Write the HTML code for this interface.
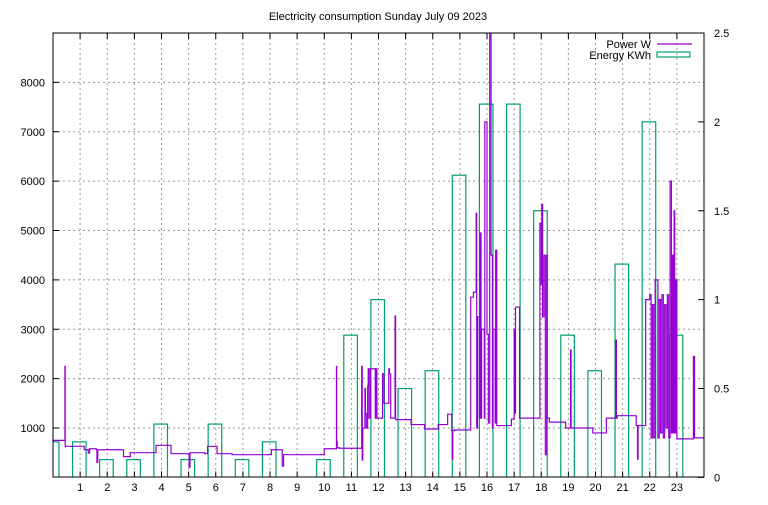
<!DOCTYPE html>
<html><head><meta charset="utf-8"><style>
body{margin:0;background:#fff;}
svg text{font-family:"Liberation Sans",sans-serif;font-size:11px;fill:#000;}
</style></head><body>
<svg id="chart" width="768" height="500" xmlns="http://www.w3.org/2000/svg">
<text x="378" y="20" text-anchor="middle">Electricity consumption Sunday July 09 2023</text>
<g id="grid"></g>
<defs><clipPath id="clip"><rect x="53" y="33" width="651" height="444"/></clipPath></defs>
<g id="energy" clip-path="url(#clip)"></g>
<path id="power" clip-path="url(#clip)" fill="none" stroke="#9400d3" stroke-width="1.2"/>
<rect x="53" y="33" width="651" height="444" fill="none" stroke="#000"/>
<g id="axes"></g>
<g>
<text x="651" y="48" text-anchor="end">Power W</text>
<line x1="657" y1="44" x2="692" y2="44" stroke="#9400d3" stroke-width="1.2"/>
<text x="651" y="59" text-anchor="end">Energy KWh</text>
<rect x="657" y="52" width="33" height="5" fill="none" stroke="#009e73" stroke-width="1.2"/>
</g>
</svg>
<script>
const hours=[0,1,2,3,4,5,6,7,8,9,10,11,12,13,14,15,16,17,18,19,20,21,22,23];
const energyKWh=[0.2,0.2,0.1,0.1,0.3,0.1,0.3,0.1,0.2,0,0.1,0.8,1.0,0.5,0.6,1.7,2.1,2.1,1.5,0.8,0.6,1.2,2.0,0.8];
const powerTimes=[0,0.44,0.45,0.46,1.15,1.3,1.35,1.6,1.62,1.65,2.55,2.6,2.85,3.75,3.8,4.3,4.35,5.0,5.02,5.05,5.6,5.7,5.95,6.05,6.6,8.0,8.05,8.4,8.45,8.5,10.0,10.45,10.46,10.48,10.55,11.38,11.4,11.42,11.5,11.52,11.55,11.6,11.62,11.65,11.7,11.88,11.92,11.94,12.15,12.2,12.38,12.4,12.45,12.6,12.61,12.63,13.2,13.7,14.2,14.55,14.7,14.72,14.74,14.8,15.4,15.5,15.6,15.62,15.65,15.72,15.74,15.78,15.8,15.9,15.92,16.0,16.05,16.1,16.15,16.2,16.22,16.3,16.32,16.36,16.4,16.5,16.9,17.0,17.02,17.05,17.2,17.9,17.95,18.0,18.02,18.05,18.1,18.15,18.2,18.22,18.3,18.9,19.08,19.1,19.12,19.9,20.4,20.75,20.77,20.8,21.5,21.55,21.57,21.85,22.0,22.05,22.1,22.15,22.2,22.3,22.35,22.4,22.45,22.5,22.55,22.6,22.65,22.7,22.75,22.8,22.82,22.86,22.9,22.92,22.96,23.0,23.6,23.61,23.65,24];
const powerWatts=[750,2250,620,630,560,490,580,560,300,560,560,420,500,500,650,650,480,470,200,500,480,630,630,480,460,460,560,560,230,460,580,2250,720,600,590,2250,350,1000,1800,1300,1000,1850,2200,1200,2200,1200,2200,1200,2100,1500,2200,2100,1200,1200,3270,1170,1070,980,1070,1280,950,370,950,960,3650,3750,5350,1000,3250,1200,4950,1200,3000,1200,7200,2900,1100,9000,4500,1000,3000,1100,4600,1050,1050,1050,1180,3000,1300,3450,1200,1200,5150,3900,5530,3250,4500,460,4500,1200,1120,1000,2580,1000,1000,900,1200,2780,1200,1250,1050,370,1050,3600,3700,800,3500,800,4000,800,3600,900,3700,800,3500,1000,3700,800,6000,900,4500,900,5400,900,4000,780,780,2450,800,760,760];
const X0=53,X1=704,Y0=477.4,Y1=33,YMAX=9000,Y2MAX=2.5;
const xs=h=>X0+(X1-X0)*h/24;
const yl=w=>Y0-(Y0-Y1)*w/YMAX;
const yr=e=>Y0-(Y0-Y1)*e/Y2MAX;
const NS="http://www.w3.org/2000/svg";
function mk(tag,attrs,parent){const e=document.createElementNS(NS,tag);for(const k in attrs)e.setAttribute(k,attrs[k]);parent.appendChild(e);return e;}
const grid=document.getElementById('grid'),axes=document.getElementById('axes'),en=document.getElementById('energy');
const yTicks=[1000,2000,3000,4000,5000,6000,7000,8000];
const y2Ticks=[0,0.5,1,1.5,2,2.5];
const y2Labels=["0","0.5","1","1.5","2","2.5"];
for(const t of yTicks){
  const l=mk('line',{x1:X0,x2:X1,y1:yl(t),y2:yl(t),stroke:'#999','stroke-dasharray':'2,3'},grid);
  
  
  mk('line',{x1:X0,x2:X0+6,y1:yl(t),y2:yl(t),stroke:'#000'},axes);
  const tx=mk('text',{x:X0-8,y:yl(t)+4,'text-anchor':'end'},axes);tx.textContent=t;
  
  
}
for(let h=1;h<24;h++){
  const l=mk('line',{x1:xs(h),x2:xs(h),y1:Y1,y2:Y0,stroke:'#999','stroke-dasharray':'2,3'},grid);
  
  
  mk('line',{x1:xs(h),x2:xs(h),y1:Y0,y2:Y0-6,stroke:'#000'},axes);
  mk('line',{x1:xs(h),x2:xs(h),y1:Y1,y2:Y1+6,stroke:'#000'},axes);
  const tx=mk('text',{x:xs(h),y:491,'text-anchor':'middle'},axes);tx.textContent=h;
  
  
}
y2Ticks.forEach((t,i)=>{
  mk('line',{x1:X1-6,x2:X1,y1:yr(t),y2:yr(t),stroke:'#000'},axes);
  const tx=mk('text',{x:X1+10,y:yr(t)+4},axes);tx.textContent=y2Labels[i];
  
  
});
hours.forEach((h,i)=>{
  const v=energyKWh[i];if(v<=0)return;
  const a=xs(h-0.28),b=xs(h+0.22);
  const r=mk('rect',{x:a,y:yr(v),width:b-a,height:Y0-yr(v),fill:'none',stroke:'#009e73','stroke-width':1.2},en);
  
  
});
let d='M'+xs(powerTimes[0])+','+yl(powerWatts[0]);
for(let i=1;i<powerTimes.length;i++){d+='H'+xs(powerTimes[i])+'V'+yl(powerWatts[i]);}
document.getElementById('power').setAttribute('d',d);
</script>
</body></html>
